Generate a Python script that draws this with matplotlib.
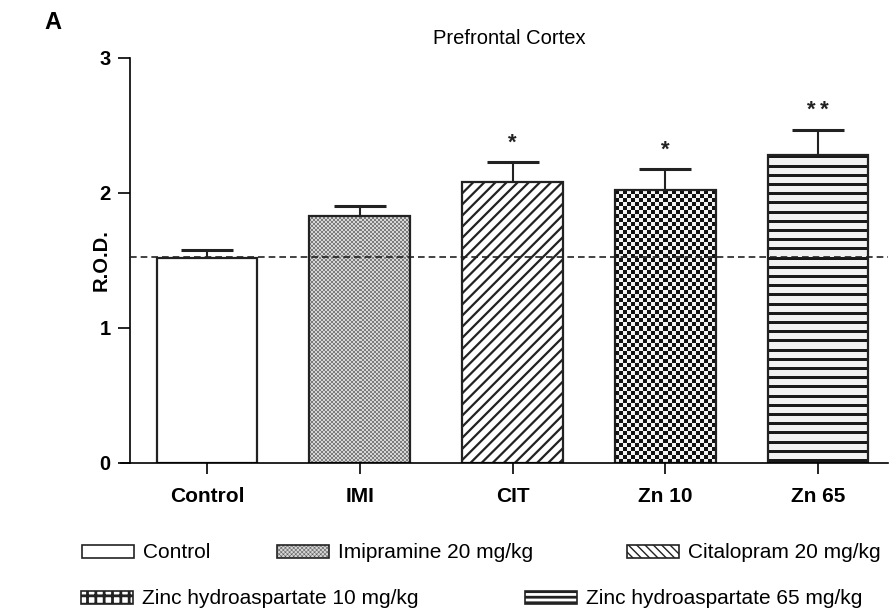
import matplotlib
matplotlib.use("Agg")
import matplotlib.pyplot as plt
from matplotlib.patches import Patch
from matplotlib.colors import ListedColormap
import numpy as np

categories = ["Control", "IMI", "CIT", "Zn 10", "Zn 65"]
means = [1.52, 1.83, 2.08, 2.02, 2.28]
errors = [0.06, 0.07, 0.15, 0.16, 0.19]
stars = ["", "", "*", "*", "**"]
control_level = 1.525
legend_labels = ["Control", "Imipramine 20 mg/kg", "Citalopram 20 mg/kg",
                 "Zinc hydroaspartate 10 mg/kg", "Zinc hydroaspartate 65 mg/kg"]

plt.rcParams['font.family'] = ['Liberation Sans', 'DejaVu Sans']

W, H, DPI = 8.9, 6.13, 100
fig = plt.figure(figsize=(W, H), dpi=DPI)
ax = fig.add_axes([0.146, 0.2447, 0.852, 0.6607])
ax.set_xlim(-0.505, 4.46)
ax.set_ylim(0, 3)

EDGE = "#222222"
x = np.arange(len(categories))
bar_w = 0.66

# base fills
with plt.rc_context({"hatch.linewidth": 1.6}):
    bars = ax.bar(x, means, width=bar_w, color="white", edgecolor="none", zorder=2)
    bars[2].set_hatch("///")
    bars[2].set_edgecolor(EDGE)
    bars[2].set_linewidth(0)

# pixel scale from axes geometry
px_per_x = 0.852 * W * DPI / (4.46 + 0.505)
px_per_y = 0.6607 * H * DPI / 3.0

def checker(b, sq, c_dark, c_light):
    wpx = b.get_width() * px_per_x
    hpx = b.get_height() * px_per_y
    nx = max(1, int(round(wpx / sq)))
    ny = max(1, int(round(hpx / sq)))
    jj, ii = np.meshgrid(np.arange(nx), np.arange(ny))
    arr = ((ii + jj) % 2).astype(float)
    im = ax.imshow(arr, cmap=ListedColormap([c_dark, c_light]), vmin=0, vmax=1,
                   extent=(b.get_x(), b.get_x() + b.get_width(), 0, b.get_height()),
                   origin="upper", aspect="auto", interpolation="nearest", zorder=2.1)
    im.set_clip_path(b)

def stripes(b, period, dark, c_dark, c_light):
    hpx = int(round(b.get_height() * px_per_y))
    rows = np.arange(hpx)
    arr = ((rows % period) < dark).astype(float)[:, None]
    im = ax.imshow(1 - arr, cmap=ListedColormap([c_dark, c_light]), vmin=0, vmax=1,
                   extent=(b.get_x(), b.get_x() + b.get_width(), 0, b.get_height()),
                   origin="upper", aspect="auto", interpolation="nearest", zorder=2.1)
    im.set_clip_path(b)

checker(bars[1], 2.0, "#7c7c7c", "#d6d6d6")
checker(bars[3], 4.0, "#111111", "#f4f4f4")
stripes(bars[4], 9.2, 3, "#1a1a1a", "#f2f2f2")

# outlines
ax.bar(x, means, width=bar_w, fill=False, edgecolor=EDGE, linewidth=1.6, zorder=2.3)

eb = ax.errorbar(x, means, yerr=[np.zeros(len(errors)), errors], fmt="none",
                 ecolor=EDGE, elinewidth=1.5, capsize=18.5, capthick=2.2, zorder=3)
eb[1][0].set_visible(False)

for xi, m, e, s in zip(x, means, errors, stars):
    if s:
        ax.text(xi, m + e + 0.06, "\u2009".join(s), ha="center",
                va="bottom", fontsize=16, fontweight="bold", color=EDGE)

ax.axhline(control_level, color=EDGE, linestyle=(0, (4, 2.4)), linewidth=1.2, zorder=4)

ax.set_yticks([0, 1, 2, 3])
ax.set_xticks(x)
ax.set_xticklabels(categories, fontsize=15, fontweight="bold")
ax.tick_params(axis="y", labelsize=14.5, length=9, width=1.2, pad=5)
ax.tick_params(axis="x", length=8, width=1.2, pad=9)
for lab in ax.get_yticklabels():
    lab.set_fontweight("bold")
ax.spines["top"].set_visible(False)
ax.spines["right"].set_visible(False)
ax.spines["left"].set_linewidth(1.2)
ax.spines["bottom"].set_linewidth(1.2)
ax.spines["bottom"].set_bounds(-0.565, 4.46)
ax.set_ylabel("R.O.D.", fontsize=14.5, fontweight="bold")
ax.yaxis.set_label_coords(-0.026, 0.5)

fig.text(0.572, 0.937, "Prefrontal Cortex", ha="center", va="center", fontsize=14.5)
fig.text(0.060, 0.963, "A", ha="center", va="center", fontsize=17, fontweight="bold")

# legend entries placed individually
leg_styles = [
    dict(facecolor="white", hatch=None, hlw=1.0),
    dict(facecolor="#d4d4d4", hatch="xxxxxxxx", hlw=0.25),
    dict(facecolor="white", hatch="\\\\\\\\", hlw=1.0),
    dict(facecolor="white", hatch="++", hlw=2.0),
    dict(facecolor="white", hatch="---", hlw=2.0),
]
legend_pos = [(82, 553), (277, 553), (627, 553), (81, 599), (525, 599)]
for (px, py), lab, st in zip(legend_pos, legend_labels, leg_styles):
    with plt.rc_context({"hatch.linewidth": st["hlw"]}):
        h = Patch(facecolor=st["facecolor"], edgecolor=EDGE, linewidth=1.2,
                  hatch=st["hatch"])
        fig.legend([h], [lab], loc="center left",
                   bbox_to_anchor=(px / (W * DPI), 1 - py / (H * DPI)),
                   frameon=False, fontsize=15, handlelength=2.5, handleheight=0.58,
                   handletextpad=0.43, borderpad=0, borderaxespad=0)

fig.savefig("out.png", dpi=DPI)
